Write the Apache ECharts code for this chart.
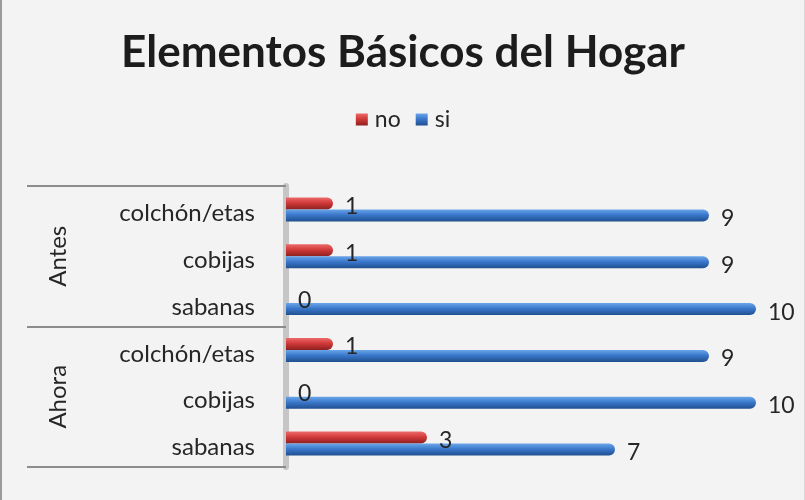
<!DOCTYPE html>
<html>
<head>
<meta charset="utf-8">
<script src="https://cdn.jsdelivr.net/npm/echarts@6/dist/echarts.min.js"></script>
<style>
  html, body { margin: 0; padding: 0; background: #f3f3f3; }
  #chart { width: 805px; height: 500px; box-sizing: border-box; border-left: 2px solid #9a9a9a; border-right: 1px solid #d8d8d8; }
</style>
</head>
<body>
<div id="chart"></div>
<script>
// Datos
const items = ['colchón/etas', 'cobijas', 'sabanas', 'colchón/etas', 'cobijas', 'sabanas'];
const groups = ['Antes', 'Ahora'];
const seriesNames = ['no', 'si'];
const noValues = [1, 1, 0, 1, 0, 3];
const siValues = [9, 9, 10, 9, 10, 7];

const FONT = 'Lato';

function cyl(top, mid, bottom) {
  return new echarts.graphic.LinearGradient(0, 0, 0, 1, [
    { offset: 0, color: top },
    { offset: 0.45, color: mid },
    { offset: 1, color: bottom }
  ]);
}

const barLabel = {
  show: true,
  position: 'right',
  distance: 12,
  offset: [0, 3],
  fontSize: 23,
  fontFamily: FONT,
  color: '#262626'
};

document.addEventListener('DOMContentLoaded', () => {
  const chart = echarts.init(document.querySelector('#chart'));
  chart.setOption({
    backgroundColor: '#f3f3f3',
    animation: false,
    title: {
      text: 'Elementos Básicos del Hogar',
      left: 'center',
      top: 26,
      textStyle: { fontSize: 44, fontWeight: 'bold', fontFamily: FONT, color: '#1c1c1c' }
    },
    legend: {
      top: 103,
      left: 'center',
      icon: 'rect',
      itemWidth: 12,
      itemHeight: 12,
      itemGap: 15,
      textStyle: { fontSize: 23, fontFamily: FONT, color: '#262626', padding: [0, 0, 0, 2] },
      itemStyle: { borderWidth: 0 }
    },
    grid: { left: 284, right: 48, top: 186, bottom: 33 },
    xAxis: { type: 'value', min: 0, max: 10, show: false },
    yAxis: [
      {
        type: 'category',
        data: items,
        inverse: true,
        axisLine: { show: true, lineStyle: { color: '#c6c6c6', width: 6 } },
        axisTick: { show: false },
        axisLabel: { fontSize: 24, fontFamily: FONT, color: '#262626', margin: 31, verticalAlign: 'top', lineHeight: 8 }
      },
      {
        type: 'category',
        data: groups,
        inverse: true,
        position: 'left',
        axisLine: { show: false },
        axisTick: { show: true, length: 259, lineStyle: { color: '#8c8c8c', width: 2 } },
        axisLabel: { rotate: 90, fontSize: 24, fontFamily: FONT, color: '#262626', margin: 216 }
      }
    ],
    series: [
      {
        name: seriesNames[0],
        type: 'bar',
        data: noValues,
        barWidth: 12,
        barGap: '0%',
        itemStyle: { color: cyl('#ec6a6a', '#d23a3a', '#8e1f1f'), borderRadius: [0, 6, 6, 0] },
        label: barLabel
      },
      {
        name: seriesNames[1],
        type: 'bar',
        data: siValues,
        barWidth: 12,
        barGap: '0%',
        itemStyle: { color: cyl('#6aa6e8', '#3b78cc', '#1f4f8f'), borderRadius: [0, 6, 6, 0] },
        label: barLabel
      }
    ]
  });
});
</script>
</body>
</html>
